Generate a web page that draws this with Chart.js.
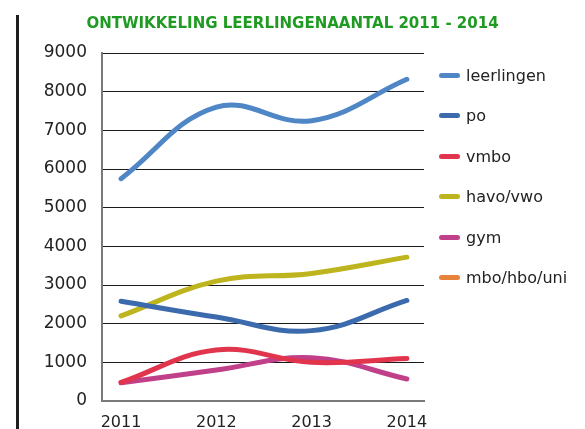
<!DOCTYPE html>
<html>
<head>
<meta charset="utf-8">
<script src="https://cdn.jsdelivr.net/npm/chart.js@4.4.1/dist/chart.umd.min.js"></script>
<style>
  html, body { margin: 0; padding: 0; background: #fff; }
  #wrap { position: relative; width: 585px; height: 429px; overflow: hidden; }
  #c { position: absolute; left: 0; top: 0; }
  #rule { position: absolute; left: 16px; top: 15px; width: 3px; height: 414px; background: #1e1e1e; }
  #title { position: absolute; left: 0; width: 585px; top: 14px; text-align: center; font-family: "DejaVu Sans", sans-serif; font-weight: bold; font-size: 15px; color: #1f9a22; white-space: nowrap; }
  #legend { position: absolute; left: 439px; top: 55px; font-family: "DejaVu Sans", sans-serif; font-size: 16px; color: #222; }
  .item { height: 40.5px; display: flex; align-items: center; }
  .swatch { width: 21px; height: 5px; border-radius: 3px; margin-right: 6px; }
</style>
</head>
<body>
<div id="wrap">
  <canvas id="c" width="585" height="429"></canvas>
  <div id="rule"></div>
  <div id="title"></div>
  <div id="legend"></div>
</div>
<script>
const titleText = 'ONTWIKKELING LEERLINGENAANTAL 2011 - 2014';
const years = [2011, 2012, 2013, 2014];
const yTicks = [0, 1000, 2000, 3000, 4000, 5000, 6000, 7000, 8000, 9000];
const seriesNames = ['leerlingen', 'po', 'vmbo', 'havo/vwo', 'gym', 'mbo/hbo/uni'];
const seriesColors = ['#4f86c6', '#3b6aad', '#e1344d', '#bdb41e', '#c0408a', '#e8823a'];
const leerlingen = [5750, 7600, 7250, 8320];
const po = [2580, 2170, 1820, 2600];
const vmbo = [480, 1320, 1000, 1100];
const havoVwo = [2200, 3100, 3300, 3720];
const gym = [470, 800, 1120, 570];
const mboHboUni = [null, null, null, null];
const seriesValues = [leerlingen, po, vmbo, havoVwo, gym, mboHboUni];

document.getElementById('title').textContent = titleText;

const datasets = seriesNames.map((name, i) => ({
  label: name,
  data: years.map((y, j) => ({ x: y, y: seriesValues[i][j] })),
  borderColor: seriesColors[i],
  backgroundColor: seriesColors[i],
  borderWidth: 5,
  borderCapStyle: 'round',
  borderJoinStyle: 'round',
  pointRadius: 0,
  tension: 0.4,
  fill: false
}));

const lg = document.getElementById('legend');
seriesNames.forEach((n, i) => {
  const it = document.createElement('div');
  it.className = 'item';
  const sw = document.createElement('div');
  sw.className = 'swatch';
  sw.style.background = seriesColors[i];
  const t = document.createElement('span');
  t.textContent = n;
  it.appendChild(sw); it.appendChild(t);
  lg.appendChild(it);
});

new Chart(document.getElementById('c'), {
  type: 'line',
  data: { datasets },
  options: {
    responsive: false,
    animation: false,
    layout: { padding: { left: 0, right: 161, top: 53, bottom: 0 } },
    plugins: {
      legend: { display: false },
      tooltip: { enabled: false },
      title: { display: false }
    },
    scales: {
      x: {
        type: 'linear',
        min: 2010.8,
        max: 2014.18,
        afterBuildTicks: (s) => { s.ticks = years.map(v => ({ value: v })); },
        afterFit: (s) => { s.height = 28; },
        grid: { display: false, drawTicks: false },
        border: { display: true, color: '#7a7a7a', width: 2 },
        ticks: {
          padding: 12,
          color: '#222',
          font: { family: '"DejaVu Sans", sans-serif', size: 16 },
          callback: (v) => String(v),
          maxRotation: 0
        }
      },
      y: {
        min: 0,
        max: 9000,
        afterBuildTicks: (s) => { s.ticks = yTicks.map(v => ({ value: v })); },
        afterFit: (s) => { s.width = 102; },
        grid: { color: '#1a1a1a', lineWidth: 1, drawTicks: false },
        border: { display: true, color: '#7a7a7a', width: 2 },
        ticks: {
          padding: 15,
          color: '#222',
          font: { family: '"DejaVu Sans", sans-serif', size: 17 },
          callback: (v) => String(v)
        }
      }
    }
  }
});
</script>
</body>
</html>
